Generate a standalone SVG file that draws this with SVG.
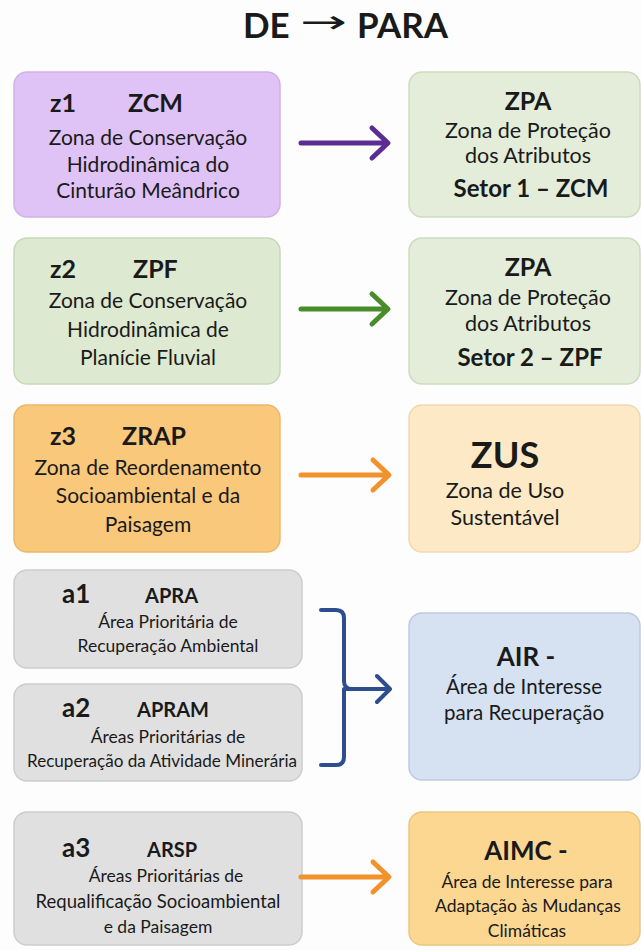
<svg xmlns="http://www.w3.org/2000/svg" width="641" height="950" viewBox="0 0 641 950">
<style>
text{font-family:Lato,"Open Sans","Liberation Sans",sans-serif;fill:#1a1a1a}
.c{text-anchor:middle}
.b{font-weight:bold}
.h{font-size:25px;font-weight:bold}
.t{font-size:21px}
.r{font-size:21.5px}
.s{font-size:17.5px}
.box{stroke-width:1.5}
.arr{fill:none;stroke-width:5;stroke-linecap:round;stroke-linejoin:round}
</style>
<rect width="641" height="950" fill="#fdfdfd"/>
<g id="title">
<text x="243" y="38" class="b" style="font-size:35px">DE</text>
<text x="300" y="33" style="font-family:'DejaVu Sans',sans-serif;font-size:32px" textLength="47" lengthAdjust="spacingAndGlyphs">→</text>
<text x="357" y="38" class="b" style="font-size:35px">PARA</text>
</g>
<g id="z1">
<rect class="box" x="14" y="72" width="266" height="145" rx="13" fill="#e0c3f6" stroke="#cfb2e6"/>
<text x="50" y="112" class="h">z1</text><text x="128" y="112" class="h">ZCM</text>
<text x="148" y="145" class="c t">Zona de Conservação</text>
<text x="148" y="172" class="c t">Hidrodinâmica do</text>
<text x="148" y="198" class="c t">Cinturão Meândrico</text>
</g>
<g id="zpa1">
<rect class="box" x="409" y="72" width="231" height="145" rx="13" fill="#e3edd9" stroke="#cddbc0"/>
<text x="528" y="110" class="c h">ZPA</text>
<text x="528" y="138" class="c r">Zona de Proteção</text>
<text x="528" y="163" class="c r">dos Atributos</text>
<text x="531" y="197" class="c h" style="font-size:24px">Setor 1 – ZCM</text>
</g>
<g id="z2">
<rect class="box" x="14" y="238" width="266" height="146" rx="13" fill="#dde9d0" stroke="#c8d8b8"/>
<text x="50" y="278" class="h">z2</text><text x="133" y="278" class="h">ZPF</text>
<text x="148" y="308" class="c t">Zona de Conservação</text>
<text x="148" y="337" class="c t">Hidrodinâmica de</text>
<text x="148" y="365" class="c t">Planície Fluvial</text>
</g>
<g id="zpa2">
<rect class="box" x="409" y="238" width="231" height="146" rx="13" fill="#e3edd9" stroke="#cddbc0"/>
<text x="528" y="276" class="c h">ZPA</text>
<text x="528" y="305" class="c r">Zona de Proteção</text>
<text x="528" y="331" class="c r">dos Atributos</text>
<text x="530" y="366" class="c h" style="font-size:24px">Setor 2 – ZPF</text>
</g>
<g id="z3">
<rect class="box" x="14" y="405" width="266" height="147" rx="13" fill="#fac87b" stroke="#eab86c"/>
<text x="50" y="445" class="h">z3</text><text x="122" y="445" class="h">ZRAP</text>
<text x="148" y="475" class="c t">Zona de Reordenamento</text>
<text x="148" y="503" class="c t">Socioambiental e da</text>
<text x="148" y="532" class="c t">Paisagem</text>
</g>
<g id="zus">
<rect class="box" x="409" y="405" width="231" height="147" rx="13" fill="#fde9c5" stroke="#efd9b2"/>
<text x="505" y="468" class="c h" style="font-size:36px">ZUS</text>
<text x="505" y="498" class="c r">Zona de Uso</text>
<text x="505" y="525" class="c r">Sustentável</text>
</g>
<g id="a1">
<rect class="box" x="14" y="570" width="288" height="98" rx="13" fill="#e0e0e0" stroke="#cdcdcd"/>
<text x="62" y="603" class="h" style="font-size:26px">a1</text><text x="145" y="603" class="b" style="font-size:20px">APRA</text>
<text x="168" y="628" class="c s">Área Prioritária de</text>
<text x="168" y="652" class="c s">Recuperação Ambiental</text>
</g>
<g id="a2">
<rect class="box" x="14" y="684" width="288" height="97" rx="13" fill="#e0e0e0" stroke="#cdcdcd"/>
<text x="62" y="717" class="h" style="font-size:26px">a2</text><text x="137" y="717" class="b" style="font-size:20px">APRAM</text>
<text x="168" y="743" class="c s">Áreas Prioritárias de</text>
<text x="162" y="767" class="c s" textLength="270" lengthAdjust="spacingAndGlyphs">Recuperação da Atividade Minerária</text>
</g>
<g id="air">
<rect class="box" x="409" y="613" width="231" height="167" rx="13" fill="#d6e2f2" stroke="#bccbe0"/>
<text x="526" y="666" class="c h" style="font-size:26px">AIR -</text>
<text x="524" y="694" class="c r" style="font-size:20.5px">Área de Interesse</text>
<text x="524" y="720" class="c r" style="font-size:20.5px">para Recuperação</text>
</g>
<g id="a3">
<rect class="box" x="14" y="812" width="288" height="133" rx="13" fill="#e0e0e0" stroke="#cdcdcd"/>
<text x="62" y="857" class="h" style="font-size:26px">a3</text><text x="147" y="857" class="b" style="font-size:20px">ARSP</text>
<text x="166" y="882" class="c s">Áreas Prioritárias de</text>
<text x="158" y="908" class="c s" style="font-size:18.5px">Requalificação Socioambiental</text>
<text x="158" y="933" class="c s">e da Paisagem</text>
</g>
<g id="aimc">
<rect class="box" x="409" y="812" width="231" height="133" rx="13" fill="#fcd792" stroke="#ecc67f"/>
<text x="526" y="860" class="c h" style="font-size:26px">AIMC -</text>
<text x="527" y="888" class="c s">Área de Interesse para</text>
<text x="528" y="912" class="c s">Adaptação às Mudanças</text>
<text x="527" y="937" class="c s">Climáticas</text>
</g>
<g id="connectors">
<path class="arr" stroke="#5b2d92" d="M301 143 H386 M372 128 L388 143 L372 158"/>
<path class="arr" stroke="#4a8c2a" d="M301 309 H386 M372 294 L388 309 L372 324"/>
<path class="arr" stroke="#f2922a" d="M301 475 H386 M373 460 L389 475 L373 490"/>
<path class="arr" stroke="#2e4d8e" style="stroke-width:4" d="M321 610 H336 Q344 610 344 618 V681 Q344 689 352 689 M344 689 V757 Q344 765 336 765 H321 M344 689 H388 M377 676 L390 689 L377 702"/>
<path class="arr" stroke="#f2922a" d="M301 877 H386 M373 862 L389 877 L373 892"/>
</g>
</svg>
